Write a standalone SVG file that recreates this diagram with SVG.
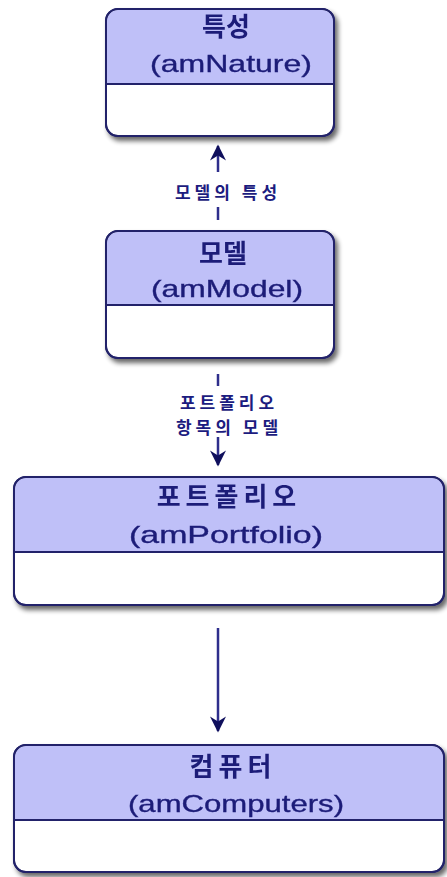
<svg xmlns="http://www.w3.org/2000/svg" width="447" height="877" viewBox="0 0 447 877">
<defs>
<filter id="sh" x="-10%" y="-10%" width="125%" height="130%">
<feGaussianBlur in="SourceAlpha" stdDeviation="2.5"/>
<feOffset dx="3" dy="4" result="b"/>
<feComponentTransfer><feFuncA type="linear" slope="0.6"/></feComponentTransfer>
<feMerge><feMergeNode/><feMergeNode in="SourceGraphic"/></feMerge>
</filter>
<marker id="ah2" viewBox="0 0 10 10" refX="9" refY="5" markerWidth="20" markerHeight="16" markerUnits="userSpaceOnUse" orient="auto">
<path d="M0,0 L10,5 L0,10 L3,5 Z" fill="#0f0f5c"/>
</marker>
</defs>
<style>
.box{fill:#ffffff;stroke:#24246a;stroke-width:2}
.hdr{fill:#bfc0f8}
.div{stroke:#24246a;stroke-width:2}
.kt{font-family:"Noto Sans CJK KR","Noto Sans",sans-serif;font-size:26px;fill:#1c1c78;text-anchor:middle;font-weight:600}
.lt{font-family:"Liberation Sans","Noto Sans",sans-serif;font-size:24px;fill:#1c1c78;stroke:#1c1c78;stroke-width:0.35;text-anchor:middle}
.lb{font-family:"Noto Sans CJK KR","Noto Sans",sans-serif;font-size:17px;font-weight:bold;fill:#1c1c80;text-anchor:middle;letter-spacing:4px}
.cn{stroke:#2e2e8c;stroke-width:2.5;fill:none}
</style>

<g id="connectors">
<line class="cn" x1="218" y1="220" x2="218" y2="207"/>
<line class="cn" x1="218" y1="172" x2="218" y2="146" marker-end="url(#ah2)"/>
<text class="lb" x="228" y="199">모델의 특성</text>
<line class="cn" x1="218" y1="374" x2="218" y2="386"/>
<line class="cn" x1="218" y1="437" x2="218" y2="465" marker-end="url(#ah2)"/>
<text class="lb" x="229" y="409">포트폴리오</text>
<text class="lb" x="229" y="434">항목의 모델</text>
<line class="cn" x1="218" y1="628" x2="218" y2="731" marker-end="url(#ah2)"/>
</g>

<g id="amNature" filter="url(#sh)">
<rect class="box" x="106" y="9" width="228" height="127" rx="12"/>
<path class="hdr" d="M118,10 H322 A11,11 0 0 1 333,21 V84 H107 V21 A11,11 0 0 1 118,10 Z"/>
<line class="div" x1="106" y1="84" x2="334" y2="84"/>
<rect x="106" y="9" width="228" height="127" rx="12" fill="none" stroke="#24246a" stroke-width="2"/>
<text class="kt" x="226" y="36">특성</text>
<text class="lt" x="231" y="72" textLength="162" lengthAdjust="spacingAndGlyphs">(amNature)</text>
</g>

<g id="amModel" filter="url(#sh)">
<rect class="box" x="106" y="231" width="228" height="127" rx="12"/>
<path class="hdr" d="M118,232 H322 A11,11 0 0 1 333,243 V305 H107 V243 A11,11 0 0 1 118,232 Z"/>
<line class="div" x1="106" y1="305" x2="334" y2="305"/>
<rect x="106" y="231" width="228" height="127" rx="12" fill="none" stroke="#24246a" stroke-width="2"/>
<text class="kt" x="223" y="263">모델</text>
<text class="lt" x="227" y="297" textLength="152" lengthAdjust="spacingAndGlyphs">(amModel)</text>
</g>

<g id="amPortfolio" filter="url(#sh)">
<rect class="box" x="14" y="477" width="430" height="128" rx="12"/>
<path class="hdr" d="M26,478 H432 A11,11 0 0 1 443,489 V552 H15 V489 A11,11 0 0 1 26,478 Z"/>
<line class="div" x1="14" y1="552" x2="444" y2="552"/>
<rect x="14" y="477" width="430" height="128" rx="12" fill="none" stroke="#24246a" stroke-width="2"/>
<text class="kt" x="229" y="506" letter-spacing="5">포트폴리오</text>
<text class="lt" x="226" y="543" textLength="194" lengthAdjust="spacingAndGlyphs">(amPortfolio)</text>
</g>

<g id="amComputers" filter="url(#sh)">
<rect class="box" x="14" y="745" width="430" height="127" rx="12"/>
<path class="hdr" d="M26,746 H432 A11,11 0 0 1 443,757 V820 H15 V757 A11,11 0 0 1 26,746 Z"/>
<line class="div" x1="14" y1="820" x2="444" y2="820"/>
<rect x="14" y="745" width="430" height="127" rx="12" fill="none" stroke="#24246a" stroke-width="2"/>
<text class="kt" x="233" y="776" letter-spacing="5">컴퓨터</text>
<text class="lt" x="236" y="812" textLength="216" lengthAdjust="spacingAndGlyphs">(amComputers)</text>
</g>
</svg>
